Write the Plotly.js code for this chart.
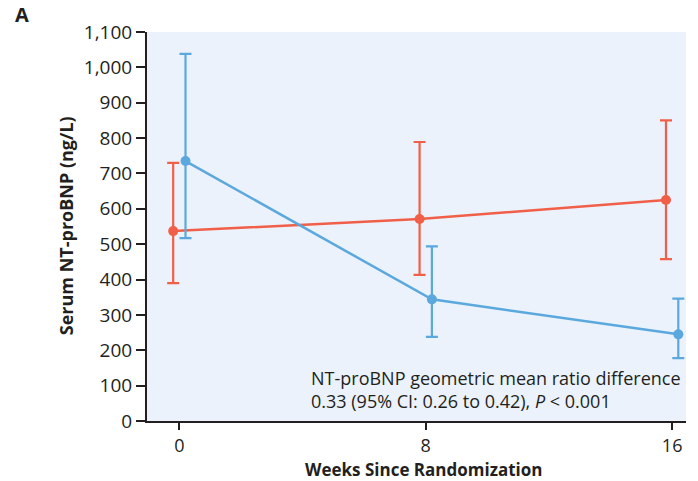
<!DOCTYPE html>
<html><head><meta charset="utf-8">
<script src="https://cdn.plot.ly/plotly-3.0.1.min.js"></script>
<style>body{margin:0;background:#fff}#c{width:698px;height:481px}</style>
</head><body><div id="c"></div>
<script>
const weeks = [0, 8, 16];
const redMean = [537, 571, 625];
const redUpper = [730, 789, 850];
const redLower = [390, 413, 458];
const blueMean = [735, 344, 245];
const blueUpper = [1038, 494, 346];
const blueLower = [517, 238, 178];
const yTicks = [0,100,200,300,400,500,600,700,800,900,1000,1100];
const xTicks = [0, 8, 16];

const RED = '#F15F48', BLUE = '#5BA8DE', INK = '#231F20';
const off = 0.2;
function trace(mean, up, lo, color, dx){
  return {
    x: weeks.map(w => w + dx), y: mean, type: 'scatter', mode: 'lines+markers',
    line: {color: color, width: 2.5}, marker: {color: color, size: 10},
    error_y: {type: 'data', symmetric: false,
      array: up.map((u,i) => u - mean[i]), arrayminus: lo.map((l,i) => mean[i] - l),
      color: color, thickness: 2.2, width: 6},
    hoverinfo: 'skip', showlegend: false
  };
}
const data = [trace(redMean, redUpper, redLower, RED, -off), trace(blueMean, blueUpper, blueLower, BLUE, off)];
const F = '"Open Sans", "Noto Sans", sans-serif';
const layout = {
  width: 698, height: 481,
  margin: {l: 147, r: 12, t: 32, b: 60},
  paper_bgcolor: '#ffffff', plot_bgcolor: '#EBF2FB',
  font: {family: F, color: INK, size: 19},
  xaxis: {range: [-1.05, 16.45], tickvals: xTicks, ticktext: xTicks.map(String),
    showgrid: false, zeroline: false, showline: true, linecolor: INK, linewidth: 2,
    ticks: 'outside', ticklen: 7, tickwidth: 2, tickcolor: INK,
    tickfont: {family: F, size: 18, color: INK}},
  yaxis: {range: [0, 1100], tickvals: yTicks, ticktext: yTicks.map(v => v.toLocaleString('en-US')),
    showgrid: false, zeroline: false, showline: true, linecolor: INK, linewidth: 2,
    ticks: 'outside', ticklen: 9, tickwidth: 2, tickcolor: INK,
    tickfont: {family: F, size: 19, color: INK}},
  annotations: [
    {xref: 'paper', yref: 'paper', x: -0.248, y: 1.085, xanchor: 'left', yanchor: 'top',
     text: '<b>A</b>', showarrow: false, font: {family: F, size: 20, color: INK}},
    {xref: 'paper', yref: 'paper', x: 0.514, y: -0.1247, xanchor: 'center', yanchor: 'middle',
     text: '<b>Weeks Since Randomization</b>', showarrow: false, font: {family: F, size: 17, color: INK}},
    {xref: 'paper', yref: 'paper', x: -0.150, y: 0.501, xanchor: 'center', yanchor: 'middle', textangle: -90,
     text: '<b>Serum NT-proBNP (ng/L)</b>', showarrow: false, font: {family: F, size: 18, color: INK}},
    {xref: 'x', yref: 'y', x: 4.2, y: 88, xanchor: 'left', yanchor: 'middle', align: 'left',
     text: 'NT-proBNP geometric mean ratio difference<br>0.33 (95% CI: 0.26 to 0.42), <i>P</i> &lt; 0.001',
     showarrow: false, font: {family: F, size: 18, color: INK}}
  ]
};
Plotly.newPlot('c', data, layout, {displayModeBar: false, staticPlot: true});
</script></body></html>
